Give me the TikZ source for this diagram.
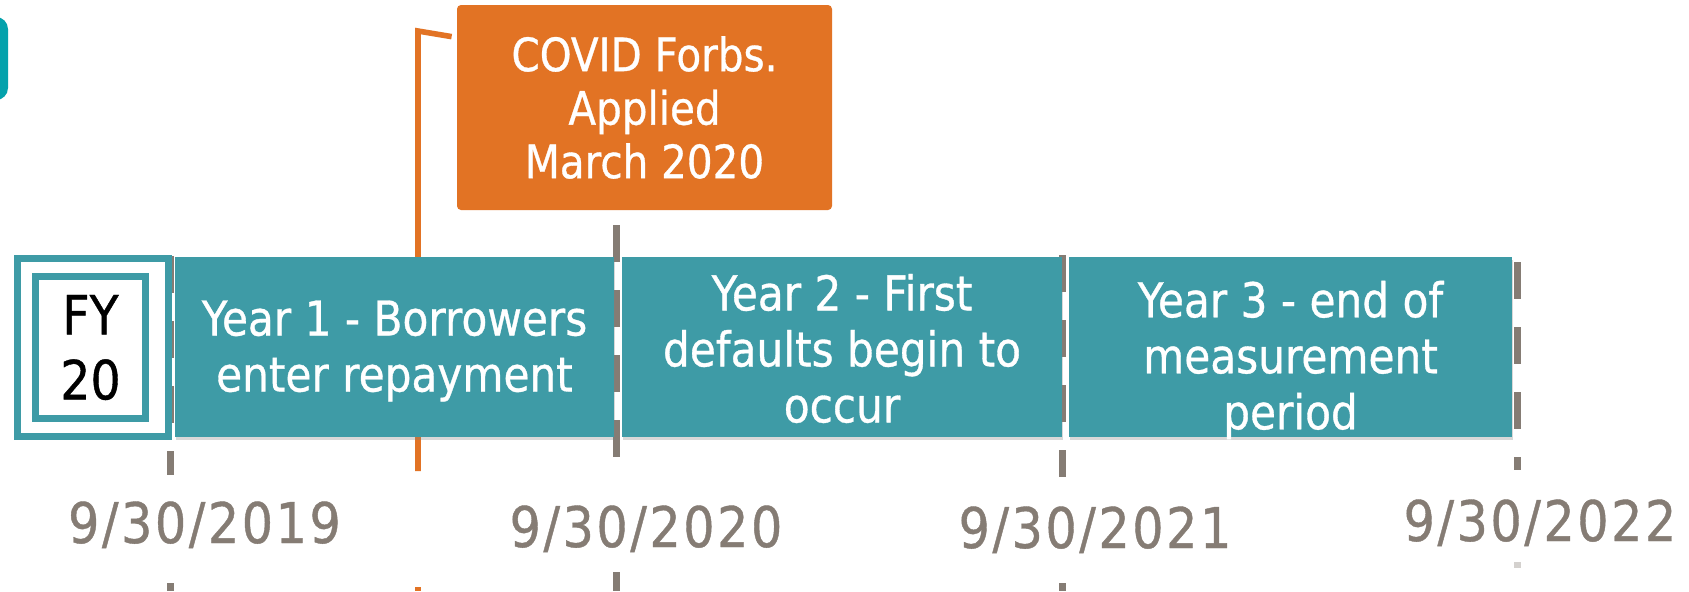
\documentclass[tikz,border=0pt]{standalone}
\usepackage{fontspec}
\setmainfont[FakeStretch=0.88,FakeBold=0.7]{DejaVu Sans}
\newfontfamily\datefont[FakeStretch=0.88,FakeBold=0.7,LetterSpace=4.5]{DejaVu Sans}
\usetikzlibrary{shadows,calc}
\definecolor{tealbar}{RGB}{62,155,166}
\definecolor{tealbright}{RGB}{4,162,172}
\definecolor{orangebox}{RGB}{226,115,36}
\definecolor{greyline}{RGB}{133,124,116}
\begin{document}
\begin{tikzpicture}[x=0.5pt,y=-0.5pt,
  bar/.style={fill=tealbar, draw=none, minimum height=90pt, inner sep=0pt,
    drop shadow={opacity=0.3, shadow xshift=0.6pt, shadow yshift=-1.5pt}},
  bartext/.style={text=white, align=center, inner sep=0pt,
    font=\fontsize{24}{28}\selectfont},
  covidbox/.style={fill=orangebox, draw=none, rounded corners=2pt, text=white, align=center,
    font=\fontsize{23}{26.75}\selectfont, minimum width=187.5pt, minimum height=102.5pt, inner sep=0pt},
  datelbl/.style={text=greyline, font=\datefont\fontsize{28}{30}\selectfont, inner sep=0pt, anchor=base},
  gline/.style={draw=greyline, line width=3.5pt, dash pattern=on 18.5pt off 14pt},
  gstub/.style={draw=greyline, line width=3.5pt},
  orline/.style={draw=orangebox, line width=2.8pt}
]
\useasboundingbox (0,0) rectangle (1689,591);
\clip (0,0) rectangle (1689,591);
\fill[white] (0,0) rectangle (1689,591);
% partial shape at top-left edge
\fill[tealbright, rounded corners=6pt] (-80,17) rectangle (8,100);

% grey timeline markers
\draw[gline] (170,256) -- (170,475);
\draw[gstub] (170,583) -- (170,591);
\draw[gline] (616,225) -- (616,458);
\draw[gstub] (616,572) -- (616,591);
\draw[gline] (1062,255) -- (1062,477);
\draw[gstub] (1062,583) -- (1062,591);
\draw[gline] (1517,262) -- (1517,470);
\draw[gstub, opacity=0.35] (1517,562) -- (1517,568);

% COVID box and flag line
\node[covidbox] (covid) at (644.5,107.5) {COVID Forbs.\\Applied\\March 2020};
\coordinate (flagtop) at (418,31);
\coordinate (flagbot) at (418,471);
\coordinate (flagend) at (418,591);
\coordinate (flaglow) at (418,587);
\draw[orline] ($(covid.north west)+(-5,32)$) -- (flagtop) -- (flagbot);
\draw[orline] (flaglow) -- (flagend);

% bars
\node[bar, minimum width=219.5pt] (y1) at (394.5,347) {};
\node[bar, minimum width=220pt] (y2) at (842,347) {};
\node[bar, minimum width=221.5pt] (y3) at (1290.5,347) {};
\node[bartext] (y1t) at ($(y1.center)+(0,4)$) {Year 1 - Borrowers\\enter repayment};
\node[bartext] (y2t) at ($(y2.center)+(0,1.5)$) {Year 2 - First\\defaults begin to\\occur};
\node[bartext] (y3t) at ($(y3.center)+(0,13)$) {Year 3 - end of\\measurement\\period};

% FY box
\node[draw=tealbar, line width=3.5pt, fill=white, minimum width=75.5pt, minimum height=89pt, inner sep=0pt] (fyo) at (93,347.5) {};
\node[draw=tealbar, line width=3.5pt, fill=white, minimum width=55pt, minimum height=71pt, inner sep=0pt,
  align=center, font=\fontsize{27}{32.5}\selectfont, text=black] (fy) at (90.5,347.5) {FY\\20};

% dates
\node[datelbl] (d2019) at (204.5,543) {9/30/2019};
\node[datelbl] (d2020) at (646,547) {9/30/2020};
\node[datelbl] (d2021) at (1095,548) {9/30/2021};
\node[datelbl] (d2022) at (1540,541) {9/30/2022};
\end{tikzpicture}
\end{document}
